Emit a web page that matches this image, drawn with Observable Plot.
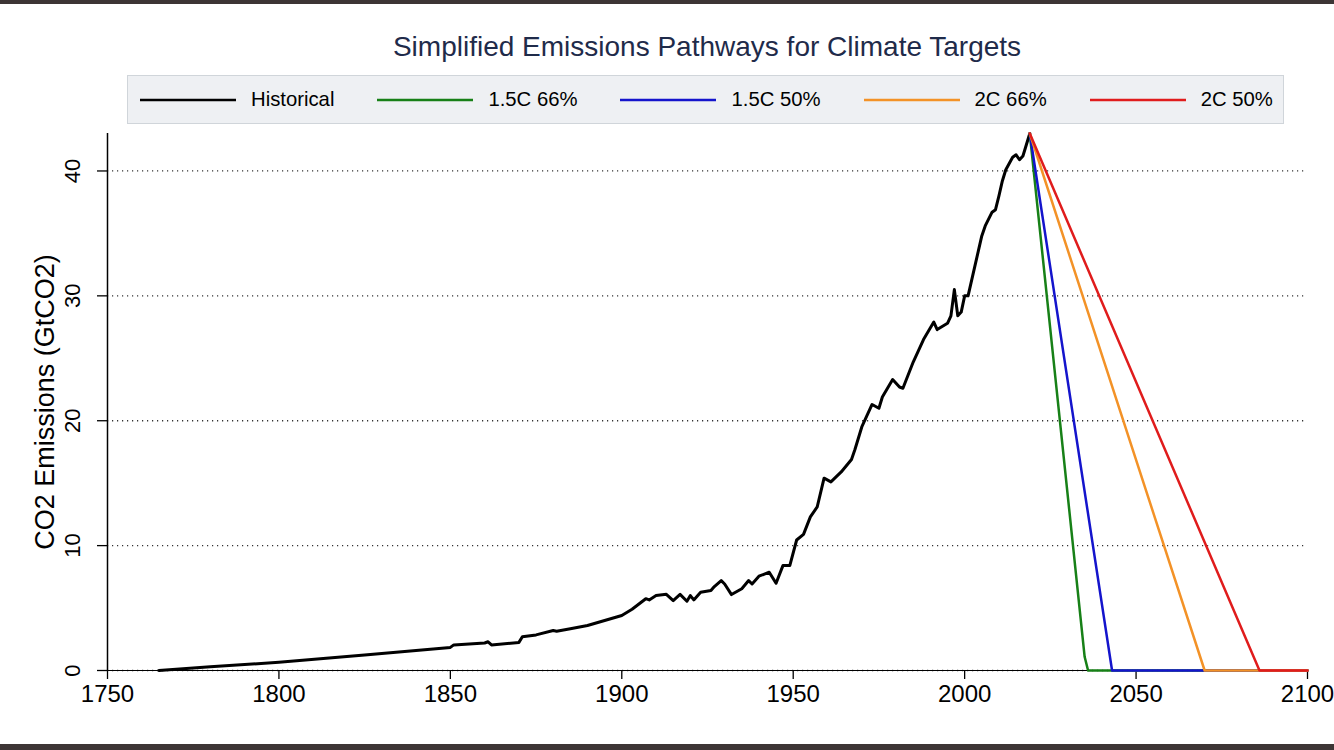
<!DOCTYPE html>
<html><head><meta charset="utf-8">
<script src="https://cdn.jsdelivr.net/npm/d3@7"></script>
<script src="https://cdn.jsdelivr.net/npm/@observablehq/plot@0.6"></script>
<style>
body{margin:0;background:#fff;font-family:"Liberation Sans",Arial,Helvetica,sans-serif;}
#wrap{position:relative;width:1334px;height:750px;overflow:hidden;background:#fff}
.bar{position:absolute;left:0;width:1334px;background:#3d3535}
#title{position:absolute;top:30px;left:107px;width:1200px;text-align:center;font-size:28px;color:#1f2b4a;line-height:34px}
#legend{position:absolute;left:127px;top:75px;width:1143px;height:47px;background:#eef0f3;border:1px solid #d0d5da;display:flex;align-items:center;gap:43px;padding-left:12px;box-sizing:content-box}
.item{display:flex;align-items:center;font-size:20.3px;color:#000;white-space:nowrap}
.item svg{margin-right:15px}
#chart{position:absolute;left:0;top:125px}
</style></head><body><div id="wrap">
<div class="bar" style="top:0;height:4px"></div>
<div class="bar" style="top:744px;height:6px"></div>
<div id="title">Simplified Emissions Pathways for Climate Targets</div>
<div id="legend"></div>
<div id="chart"></div>
</div>
<script>
// ---- data ----
const histYears = [1765,1780,1800,1825,1850,1851,1860,1861,1862,1870,1871,1875,1880,1881,1885,1890,1895,1900,1903,1907,1908,1910,1913,1915,1917,1919,1920,1921,1923,1926,1927,1929,1930,1932,1935,1937,1938,1940,1943,1945,1947,1949,1951,1953,1955,1957,1959,1961,1964,1967,1968,1970,1973,1975,1976,1979,1981,1982,1985,1988,1991,1992,1995,1996,1997,1998,1999,2000,2001,2003,2004,2005,2006,2008,2009,2010,2011,2012,2014,2015,2016,2017,2019];
const histValues = [0.0,0.3,0.66,1.25,1.85,2.05,2.2,2.3,2.05,2.25,2.7,2.85,3.2,3.15,3.35,3.6,4.0,4.4,4.9,5.75,5.65,6.0,6.1,5.6,6.1,5.55,6.0,5.65,6.27,6.4,6.72,7.2,6.93,6.08,6.55,7.2,6.93,7.55,7.87,6.98,8.4,8.4,10.45,10.9,12.3,13.1,15.4,15.1,15.9,16.9,17.7,19.5,21.3,21.0,21.9,23.3,22.7,22.6,24.7,26.5,27.9,27.3,27.8,28.4,30.5,28.4,28.7,30.0,30.0,32.4,33.6,34.8,35.6,36.7,36.9,38.0,39.2,40.1,41.1,41.3,40.9,41.2,43.0];

const pathwayNames = ["1.5C 66%","1.5C 50%","2C 66%","2C 50%"];
const pathwayYears = [[2019,2035,2036,2100],[2019,2043,2100],[2019,2070,2100],[2019,2086,2100]];
const pathwayValues = [[43.0,1.1,0,0],[43.0,0,0],[43.0,0,0],[43.0,0,0]];

const seriesNames = ["Historical", ...pathwayNames];
const xTicks = [1750,1800,1850,1900,1950,2000,2050,2100];
const yTicks = [0,10,20,30,40];
const yLabel = "CO2 Emissions (GtCO2)";

// ---- styles ----
const seriesColors = ["#000000","#178017","#1414cc","#f39227","#e01c1c"];
const FONT = "Liberation Sans, Arial, Helvetica, sans-serif";

// ---- tables ----
const hist = histYears.map((y,i)=>({year:y, value:histValues[i], series:"Historical"}));
const paths = pathwayNames.flatMap((n,k)=>pathwayYears[k].map((y,i)=>({year:y, value:pathwayValues[k][i], series:n})));

// ---- legend ----
const legend = document.getElementById("legend");
seriesNames.forEach((n,i)=>{
  const it = document.createElement("div"); it.className="item";
  it.innerHTML = `<svg width="96" height="6"><line x1="0" x2="96" y1="3" y2="3" stroke="${seriesColors[i]}" stroke-width="2.5"/></svg><span>${n}</span>`;
  legend.appendChild(it);
});

// ---- chart ----
const chart = Plot.plot({
  width:1334, height:619,
  marginLeft:107, marginRight:27, marginTop:8, marginBottom:74,
  x:{domain:[1750,2100]},
  y:{domain:[0,43]},
  color:{domain:seriesNames, range:seriesColors},
  style:{fontFamily:FONT, color:"#000", background:"transparent", overflow:"visible"},
  marks:[
    Plot.ruleY(yTicks,{stroke:"#333", strokeDasharray:"1.2,3.8", strokeWidth:1.3}),
    Plot.ruleX([1750],{y1:0, y2:43, stroke:"#000", strokeWidth:1.5}),
    Plot.ruleY([0],{x1:1750, x2:2100, stroke:"#000", strokeWidth:1.2}),
    Plot.axisY({ticks:yTicks, tickSize:10, tickFormat:()=>"", label:null, strokeWidth:1.3}),
    Plot.text(yTicks,{y:d=>d, text:d=>String(d), frameAnchor:"left", dx:-35, rotate:-90, fontSize:22, textAnchor:"middle", lineAnchor:"middle", fill:"#000"}),
    Plot.axisX({ticks:xTicks, tickSize:9, tickPadding:5, fontSize:24, tickFormat:d=>String(d), label:null, strokeWidth:1.3}),
    Plot.text([yLabel],{frameAnchor:"left", dx:-62, rotate:-90, fontSize:27, textAnchor:"middle", lineAnchor:"middle", fill:"#000"}),
    Plot.line(hist,{x:"year", y:"value", stroke:"series", strokeWidth:3, strokeLinejoin:"round"}),
    Plot.line(paths,{x:"year", y:"value", stroke:"series", z:"series", strokeWidth:2.5, strokeLinejoin:"round"})
  ]
});
document.getElementById("chart").appendChild(chart);
</script>
</body></html>
